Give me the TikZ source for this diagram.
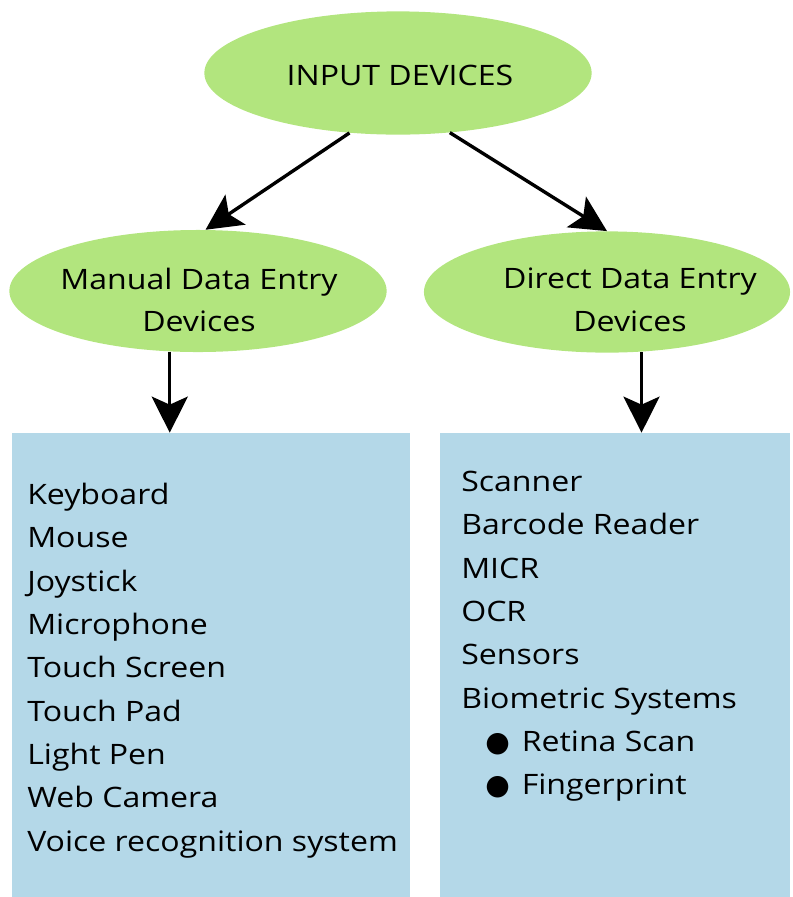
\documentclass[tikz,border=0pt]{standalone}
\usepackage{fontspec}
\setmainfont{Open Sans}[FakeStretch=1.14]
\newfontfamily\dotfont{DejaVu Sans}
\usetikzlibrary{shapes.geometric, arrows.meta}
\definecolor{leafgreen}{RGB}{178,229,126}
\definecolor{paleblue}{RGB}{180,216,232}
\newcommand{\bigdot}{{\dotfont\char"25CF}}

\begin{document}
\begin{tikzpicture}[x=0.025cm,y=-0.025cm,
  >={Stealth[length=9mm,width=9mm,inset=2mm]},
  group/.style={ellipse,fill=leafgreen,inner sep=0pt},
  grouptext/.style={align=center,inner sep=0pt,font=\fontsize{20}{30.5}\selectfont},
  listbox/.style={rectangle,fill=paleblue,inner sep=0pt},
  listtext/.style={anchor=north west,align=left,inner sep=0pt,font=\fontsize{20}{30.8}\selectfont},
  link/.style={->,line width=2.4pt}]
\useasboundingbox (0,0) rectangle (793,897);
% the three categories
\node[group,minimum width=9.68cm,minimum height=3.08cm] (top) at (398,73) {};
\node[group,minimum width=9.43cm,minimum height=3.05cm] (manual) at (198,291) {};
\node[group,minimum width=9.15cm,minimum height=3.03cm] (direct) at (607,292) {};
\node[grouptext] (top-text) at (400,75) {INPUT DEVICES};
\node[grouptext] (manual-text) at (199,300) {Manual Data Entry\\Devices};
\node[grouptext] (direct-text) at (630,300) {Direct Data Entry\\Devices};
% device lists
\node[listbox,minimum width=9.95cm,minimum height=11.6cm] (mbox) at (211,665) {};
\node[listbox,minimum width=8.75cm,minimum height=11.6cm] (dbox) at (615,665) {};
\node[listtext] (mlist) at (27,483) {Keyboard\\Mouse\\Joystick\\Microphone\\Touch Screen\\Touch Pad\\Light Pen\\Web Camera\\Voice recognition system};
\node[listtext] (dlist) at (461,471) {Scanner\\Barcode Reader\\MICR\\OCR\\Sensors\\Biometric Systems\\
  \hspace{0.6cm}\bigdot\hspace{0.3cm}Retina Scan\\
  \hspace{0.6cm}\bigdot\hspace{0.3cm}Fingerprint};
% connectors
\draw[link] (top.231) -- (manual.83);
\draw[link] (top.311) -- (direct.north);
\draw[link] (manual.245) -- (manual.245 |- mbox.north);
\draw[link] (direct.300) -- (direct.300 |- dbox.north);
\end{tikzpicture}
\end{document}
